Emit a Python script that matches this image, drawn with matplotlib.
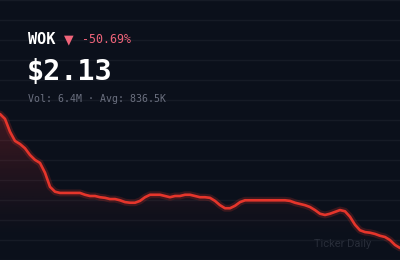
import numpy as np
import matplotlib
matplotlib.use("Agg")
import matplotlib.pyplot as plt
from matplotlib.colors import LinearSegmentedColormap

# daily closes
prices = [4.32, 4.24, 4.03, 3.88, 3.83, 3.76, 3.65, 3.57, 3.52, 3.36,
          3.13, 3.05, 3.03, 3.03, 3.03, 3.03, 3.03, 3.00, 2.98, 2.98,
          2.96, 2.95, 2.93, 2.93, 2.91, 2.88, 2.87, 2.87, 2.90, 2.96,
          3.00, 3.00, 3.00, 2.98, 2.96, 2.98, 2.98, 3.00, 3.00, 2.98,
          2.96, 2.96, 2.95, 2.90, 2.83, 2.78, 2.78, 2.82, 2.88, 2.91,
          2.91, 2.91, 2.91, 2.91, 2.91, 2.91, 2.91, 2.91, 2.90, 2.87,
          2.85, 2.83, 2.80, 2.75, 2.69, 2.67, 2.69, 2.72, 2.75, 2.73,
          2.64, 2.51, 2.42, 2.39, 2.38, 2.36, 2.33, 2.31, 2.26, 2.18,
          2.13]
days = np.arange(len(prices))
ticker = "WOK"
change = "-50.69%"
last = "$2.13"
volume = "Vol: 6.4M \u00b7 Avg: 836.5K"
brand = "Ticker Daily"

bg = "#0b101b"
red = "#e5352b"

fig = plt.figure(figsize=(4, 2.6), dpi=100)
fig.patch.set_facecolor(bg)
ax = fig.add_axes([0, 0, 1, 1])
ax.set_facecolor(bg)
ax.set_xlim(0, len(prices) - 1)
ylo, yhi = 1.934, 6.183
ax.set_ylim(ylo, yhi)
ax.axis("off")

# grid every 20px
for f in np.arange(0, 261, 20) / 260:
    ax.plot([0, 1], [f, f], transform=ax.transAxes, color="#161b26", lw=1, zorder=0)

# gradient under the line, fades out before the bottom
cmap = LinearSegmentedColormap.from_list("g", [(0.9, 0.2, 0.2, 0.0), (0.9, 0.2, 0.2, 0.24)])
top = max(prices)
fade = 2.22
grad = np.linspace(0, 1, 200).reshape(-1, 1) ** 1.3
im = ax.imshow(grad, cmap=cmap, aspect="auto", origin="lower",
               extent=[0, len(prices) - 1, fade, top], zorder=1)
poly = ax.fill_between(days, prices, ylo, color="none", lw=0)
im.set_clip_path(poly.get_paths()[0], transform=ax.transData)

# glow + line
ax.plot(days, prices, color=red, lw=5, alpha=0.2, solid_capstyle="round",
        solid_joinstyle="round", zorder=2)
ax.plot(days, prices, color=red, lw=1.9, solid_capstyle="round",
        solid_joinstyle="round", zorder=3)

mono = "DejaVu Sans Mono"
fig.text(28 / 400, 1 - 39 / 260, ticker, color="white", fontsize=11, fontweight="bold",
         family=mono, va="center", ha="left")
fig.text(69 / 400, 1 - 39.5 / 260, "\u25bc", color="#f0647a", fontsize=9,
         family="DejaVu Sans", va="center", ha="center")
fig.text(82 / 400, 1 - 39.5 / 260, change, color="#f0647a", fontsize=8.4,
         family=mono, va="center", ha="left")
fig.text(27 / 400, 1 - 72 / 260, last, color="white", fontsize=20.5, fontweight="bold",
         family=mono, va="center", ha="left")
fig.text(28 / 400, 1 - 99 / 260, volume, color="#6b7080", fontsize=7.1,
         family=mono, va="center", ha="left")
fig.text(371 / 400, 1 - 244 / 260, brand, color="#282d39", fontsize=8,
         family="Roboto", va="center", ha="right")

fig.savefig("out.png", dpi=100, facecolor=bg)
